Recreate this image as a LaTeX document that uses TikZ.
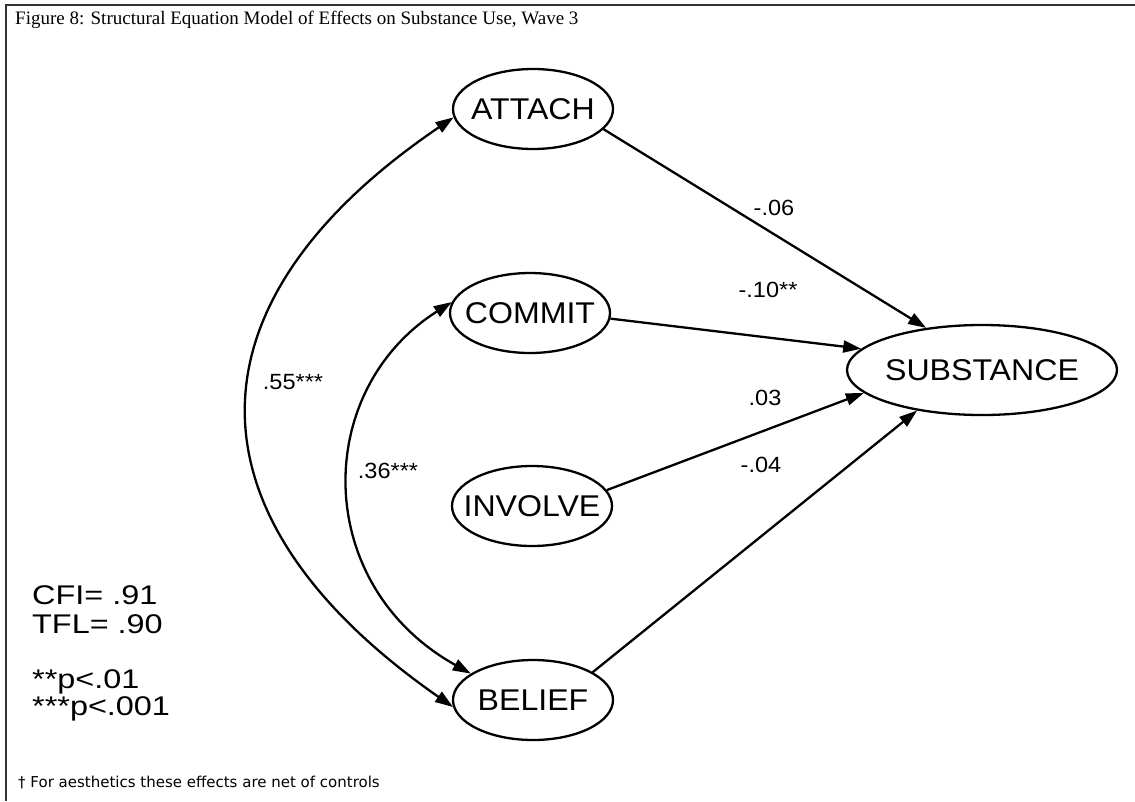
\documentclass[tikz,border=0pt]{standalone}
\usepackage{fontspec}
\setmainfont{Liberation Sans}
\newfontfamily\titlefont{Liberation Serif}
\newfontfamily\notefont{DejaVu Sans}
\newfontfamily\varfont[FakeStretch=1.07]{Liberation Sans}
\newfontfamily\fitfont[FakeStretch=1.2]{Liberation Sans}
\usetikzlibrary{arrows.meta,shapes.geometric}
% label text that does not widen its ellipse
\newcommand{\lvname}[1]{\makebox[0pt]{#1}}

\begin{document}
\begin{tikzpicture}[x=1pt,y=-1pt,
  latent/.style={ellipse,draw,line width=2.3pt,inner sep=0pt,
    minimum width=160pt,minimum height=80pt,
    font=\varfont\fontsize{30}{30}\selectfont},
  effect/.style={line width=2.3pt,-{Triangle[length=18pt,width=12pt]}},
  covar/.style={line width=2.3pt,
    {Triangle[length=18pt,width=12pt]}-{Triangle[length=18pt,width=12pt]}},
  coef/.style={font=\varfont\fontsize{22}{22}\selectfont,inner sep=0pt},
  fitline/.style={anchor=base west,inner sep=0pt,font=\fitfont\fontsize{27}{27}\selectfont}]

\useasboundingbox (0,0) rectangle (1135,801);
\fill[white] (0,0) rectangle (1135,801);

% frame
\draw[line width=2pt,black!80] (6,801) -- (6,5) -- (1135,5);

% title and note
\node[anchor=base west,inner sep=0pt,font=\titlefont\fontsize{19}{19}\selectfont]
  (title) at (15,24) {Figure 8: Structural Equation Model of Effects on Substance Use, Wave 3};
\node[anchor=base west,inner sep=0pt,font=\notefont\fontsize{15}{15}\selectfont]
  (note) at (18,787) {† For aesthetics these effects are net of controls};

% latent variables
\node[latent] (attach)  at (533,109) {\lvname{ATTACH}};
\node[latent] (commit)  at (530,313) {\lvname{COMMIT}};
\node[latent] (involve) at (532,506) {\lvname{INVOLVE}};
\node[latent] (belief)  at (533,700) {\lvname{BELIEF}};
\node[latent,minimum width=270pt,minimum height=90pt] (substance) at (982,370) {\lvname{SUBSTANCE}};

% direct effects
\draw[effect] (attach.-16)  -- (substance.143);
\draw[effect] (commit.-4)   -- (substance.170);
\draw[effect] (involve.12)  -- (substance.191);
\draw[effect] (belief.25)   -- (substance.212);

% correlations
\draw[covar] (belief.185) .. controls (180,517) and (180,303) .. (attach.186);
\draw[covar] (belief.157) .. controls (312,585) and (312,391) .. (commit.172);

% coefficients
\node[coef] (c1) at (774,208) {-.06};
\node[coef] (c2) at (768,290) {-.10**};
\node[coef] (c3) at (765,398) {.03};
\node[coef] (c4) at (761,465) {-.04};
\node[coef] (c5) at (293,382) {.55***};
\node[coef] (c6) at (388,471) {.36***};

% fit statistics
\node[fitline] (cfi) at (32,604) {CFI= .91};
\node[fitline] (tfl) at (32,633) {TFL= .90};
\node[fitline] (p2)  at (32,688) {**p<.01};
\node[fitline] (p3)  at (32,715) {***p<.001};
\end{tikzpicture}
\end{document}
